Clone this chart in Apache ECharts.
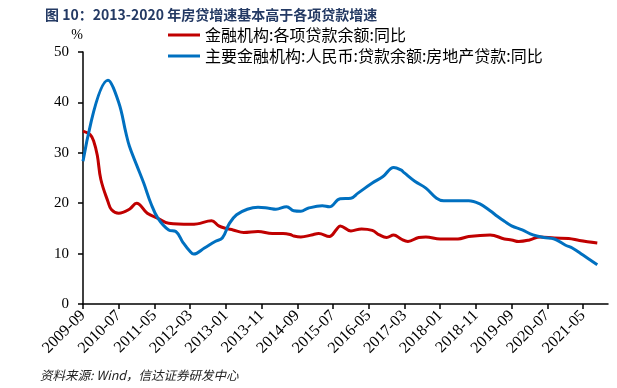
<!DOCTYPE html>
<html>
<head>
<meta charset="utf-8">
<script src="https://cdn.jsdelivr.net/npm/echarts@6/dist/echarts.min.js"></script>
<style>html,body{margin:0;padding:0;background:#fff;}#c{width:617px;height:388px;}</style>
</head>
<body>
<div id="c"></div>
<script>
// Month categories 2009-09 .. 2021-12
const months = [];
for (let i = 0; i < 148; i++) {
  const y = 2009 + Math.floor((8 + i) / 12);
  const m = (8 + i) % 12 + 1;
  months.push(y + '-' + (m < 10 ? '0' + m : m));
}
const tickLabels = ['2009-09','2010-07','2011-05','2012-03','2013-01','2013-11','2014-09','2015-07','2016-05','2017-03','2018-01','2018-11','2019-09','2020-07','2021-05'];

const seriesNames = ['金融机构:各项贷款余额:同比', '主要金融机构:人民币:贷款余额:房地产贷款:同比'];

// 金融机构:各项贷款余额:同比 (month index, %)
const loanIdx = [0,2,3,4,5,7,8,10,13,15,18,21,24,30,32,36,38,40,42,45,49,53,56,58,59,61,64,66,69,71,72,75,78,81,83,85,87,89,91,94,96,100,105,108,114,118,120,122,125,128,132,136,139,144];
const loanVal = [34.3,33.6,32.3,29.5,24.7,20.3,18.7,18.0,18.8,20.0,18.0,17.0,16.0,15.8,15.9,16.5,15.5,15.0,14.7,14.2,14.4,14.0,14.0,13.8,13.5,13.3,13.7,14.0,13.4,14.8,15.5,14.5,14.9,14.6,13.7,13.2,13.7,12.9,12.4,13.2,13.3,12.9,12.9,13.4,13.7,12.9,12.7,12.4,12.7,13.3,13.1,13.0,12.6,12.1];

// 主要金融机构:人民币:贷款余额:房地产贷款:同比 (month index, %)
const houseIdx = [0,7,10,12,13,15,17,19,21,24,26,28,30,31,34,37,39,41,43,46,49,52,54,57,59,61,63,67,69,72,75,77,81,84,87,89,90,93,96,99,101,105,108,111,114,116,118,120,123,126,129,132,135,137,140,144];
const houseVal = [28.3,44.4,40.0,34.0,31.3,27.6,24.0,20.0,17.0,14.7,14.4,12.2,10.4,9.9,11.1,12.4,13.1,16.0,17.7,18.8,19.2,19.0,18.8,19.3,18.5,18.4,19.0,19.5,19.3,20.9,21.0,22.0,24.0,25.3,27.1,26.6,26.0,24.3,23.0,21.0,20.5,20.5,20.5,19.9,18.5,17.4,16.4,15.5,14.7,13.7,13.2,12.9,11.7,11.1,9.7,7.8];

const yTicks = [0, 10, 20, 30, 40, 50];

const serif = '"Liberation Serif","DejaVu Serif",serif';
const cjk = '"Noto Sans CJK SC","Noto Sans",sans-serif';

const chart = echarts.init(document.getElementById('c'), null, {renderer: 'canvas'});
chart.setOption({
  animation: false,
  backgroundColor: '#fff',
  title: {
    text: '图 10：2013-2020 年房贷增速基本高于各项贷款增速',
    left: 40, top: 3,
    textStyle: {fontFamily: cjk, fontSize: 14, fontWeight: 'bold', color: '#243a64'}
  },
  legend: {
    orient: 'vertical',
    left: 163, top: 22,
    itemGap: 5,
    itemWidth: 32, itemHeight: 3,
    icon: 'rect',
    textStyle: {fontFamily: cjk, fontSize: 16, color: '#000'},
    data: seriesNames
  },
  grid: {left: 83, right: 9, top: 52, bottom: 84, containLabel: false},
  xAxis: {
    type: 'category',
    data: months,
    boundaryGap: false,
    axisLine: {lineStyle: {color: '#000', width: 1.5}},
    axisTick: {show: true, interval: 9, length: 5, lineStyle: {color: '#000', width: 1.5}},
    axisLabel: {
      interval: 9, rotate: 45, margin: 9,
      fontFamily: serif, fontSize: 16, color: '#000'
    },
    splitLine: {show: false}
  },
  yAxis: {
    type: 'value',
    min: yTicks[0], max: yTicks[yTicks.length - 1], interval: 10,
    name: '%',
    nameLocation: 'end',
    nameGap: 10,
    nameTextStyle: {fontFamily: serif, fontSize: 14, color: '#000', align: 'right'},
    axisLine: {show: true, lineStyle: {color: '#000', width: 1.5}},
    axisTick: {show: true, length: 5, lineStyle: {color: '#000', width: 1.5}},
    axisLabel: {fontFamily: serif, fontSize: 15, color: '#000', margin: 14},
    splitLine: {show: false}
  },
  series: [
    {
      name: seriesNames[0], type: 'line', smooth: 0.4, symbol: 'none',
      lineStyle: {color: '#c00000', width: 3}, itemStyle: {color: '#c00000'},
      data: loanIdx.map((i, k) => [months[i], loanVal[k]])
    },
    {
      name: seriesNames[1], type: 'line', smooth: 0.4, symbol: 'none',
      lineStyle: {color: '#0070c0', width: 3}, itemStyle: {color: '#0070c0'},
      data: houseIdx.map((i, k) => [months[i], houseVal[k]])
    }
  ],
  graphic: [{
    type: 'text', left: 40, top: 369,
    style: {text: '资料来源: Wind，信达证券研发中心', fontFamily: cjk, fontStyle: 'italic', fontSize: 12.5, fill: '#222'}
  }]
});
</script>
</body>
</html>
